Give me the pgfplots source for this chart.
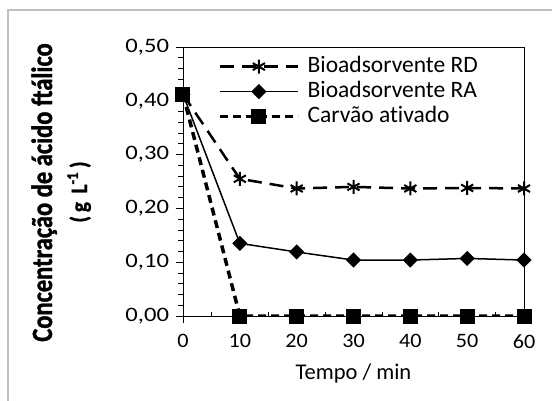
\documentclass[border=0pt]{standalone}
\usepackage{pgfplots}
\pgfplotsset{compat=1.18}
\usepackage{fontspec}
\setmainfont{Carlito}[RawFeature=-liga]
\newfontfamily\tickfont{Carlito}[FakeStretch=1.08]
\newfontfamily\ytickfont{Carlito}[FakeStretch=1.2]
\newfontfamily\labfont{Carlito}[FakeStretch=0.833, FakeBold=1.2]
\newfontfamily\labfontb{Carlito}[FakeStretch=0.9, FakeBold=1.2]
\newcommand\legf{\fontsize{23.5pt}{26pt}\selectfont}
\newcommand\xlf{\fontsize{22.5pt}{26pt}\selectfont}
\newcommand\tkf{\tickfont\fontsize{20.5pt}{24pt}\selectfont}
\newcommand\ytkf{\ytickfont\fontsize{20.5pt}{24pt}\selectfont}
\begin{document}
\begin{tikzpicture}[x=1pt,y=1pt,font=\legf]
\useasboundingbox (0,0) rectangle (552,400);
\draw[line width=2pt, black!25] (8,-10) -- (8,390) -- (570,390);
\node[rotate=90, anchor=base, inner sep=0pt, font=\labfont\fontsize{29.4pt}{30pt}\selectfont\bfseries] at (52,207.5) {Concentração de ácido ftálico};
\node[rotate=90, anchor=base, inner sep=0pt, font=\labfontb\fontsize{23.5pt}{26pt}\selectfont\bfseries] at (87,208) {(\,g\, L\textsuperscript{-1}\,)};
\begin{axis}[
  at={(183pt,84pt)}, anchor=south west,
  width=341pt, height=269pt, scale only axis,
  xmin=0, xmax=60, ymin=0, ymax=0.5,
  xtick={0,10,20,30,40,50,60},
  ytick={0,0.1,0.2,0.3,0.4,0.5},
  minor y tick num=4,
  xtick pos=left, ytick pos=left,
  x tick style={black, line width=0.8pt},
  y tick style={black, line width=0.8pt},
  xtick align=outside, ytick align=outside,
  major tick length=7pt, minor tick length=5pt,
  extra x ticks={5,15,25,35,45,55},
  extra x tick labels={},
  extra x tick style={tick align=inside, major tick length=4pt},
  axis line style={black, line width=0.8pt},
  /pgf/number format/assume math mode=true,
  xticklabel style={font=\tkf, yshift=-8pt},
  yticklabel style={font=\ytkf, xshift=-3.5pt, /pgf/number format/.cd, fixed, fixed zerofill, precision=2, use comma},
  xlabel={Tempo / min},
  xlabel style={font=\xlf, at={(axis description cs:0.5,-0.215)}, anchor=center},
  legend style={draw=none, fill=none, at={(axis description cs:0.103,0.968)}, anchor=north west,
    inner sep=0pt, outer sep=0pt, row sep=3pt, column sep=8pt,
    nodes={inner sep=0pt, text height=17pt, text depth=5pt}, font=\legf},
  legend cell align=left,
  legend image code/.code={\draw[mark repeat=2, mark phase=2, #1] plot coordinates {(0pt,0pt) (39pt,0pt) (78pt,0pt)};},
]
\addplot[black, line width=2.5pt, dash pattern=on 14pt off 8pt, mark=asterisk, mark size=7pt, mark options={solid, line width=2pt}]
  coordinates {(0,0.412) (10,0.255) (20,0.237) (30,0.240) (40,0.237) (50,0.238) (60,0.237)};
\addlegendentry{Bioadsorvente RD}
\addplot[black, line width=1.5pt, mark=square*, mark size=4.6pt, mark options={solid, rotate=45}]
  coordinates {(0,0.412) (10,0.135) (20,0.119) (30,0.104) (40,0.104) (50,0.107) (60,0.104)};
\addlegendentry{Bioadsorvente RA}
\addplot[black, line width=3.5pt, dash pattern=on 8pt off 5pt, mark=square*, mark size=7pt, mark options={solid, line width=0pt}]
  coordinates {(0,0.412) (10,0) (20,0) (30,0) (40,0) (50,0) (60,0)};
\addlegendentry{Carvão ativado}
\end{axis}
\end{tikzpicture}
\end{document}
